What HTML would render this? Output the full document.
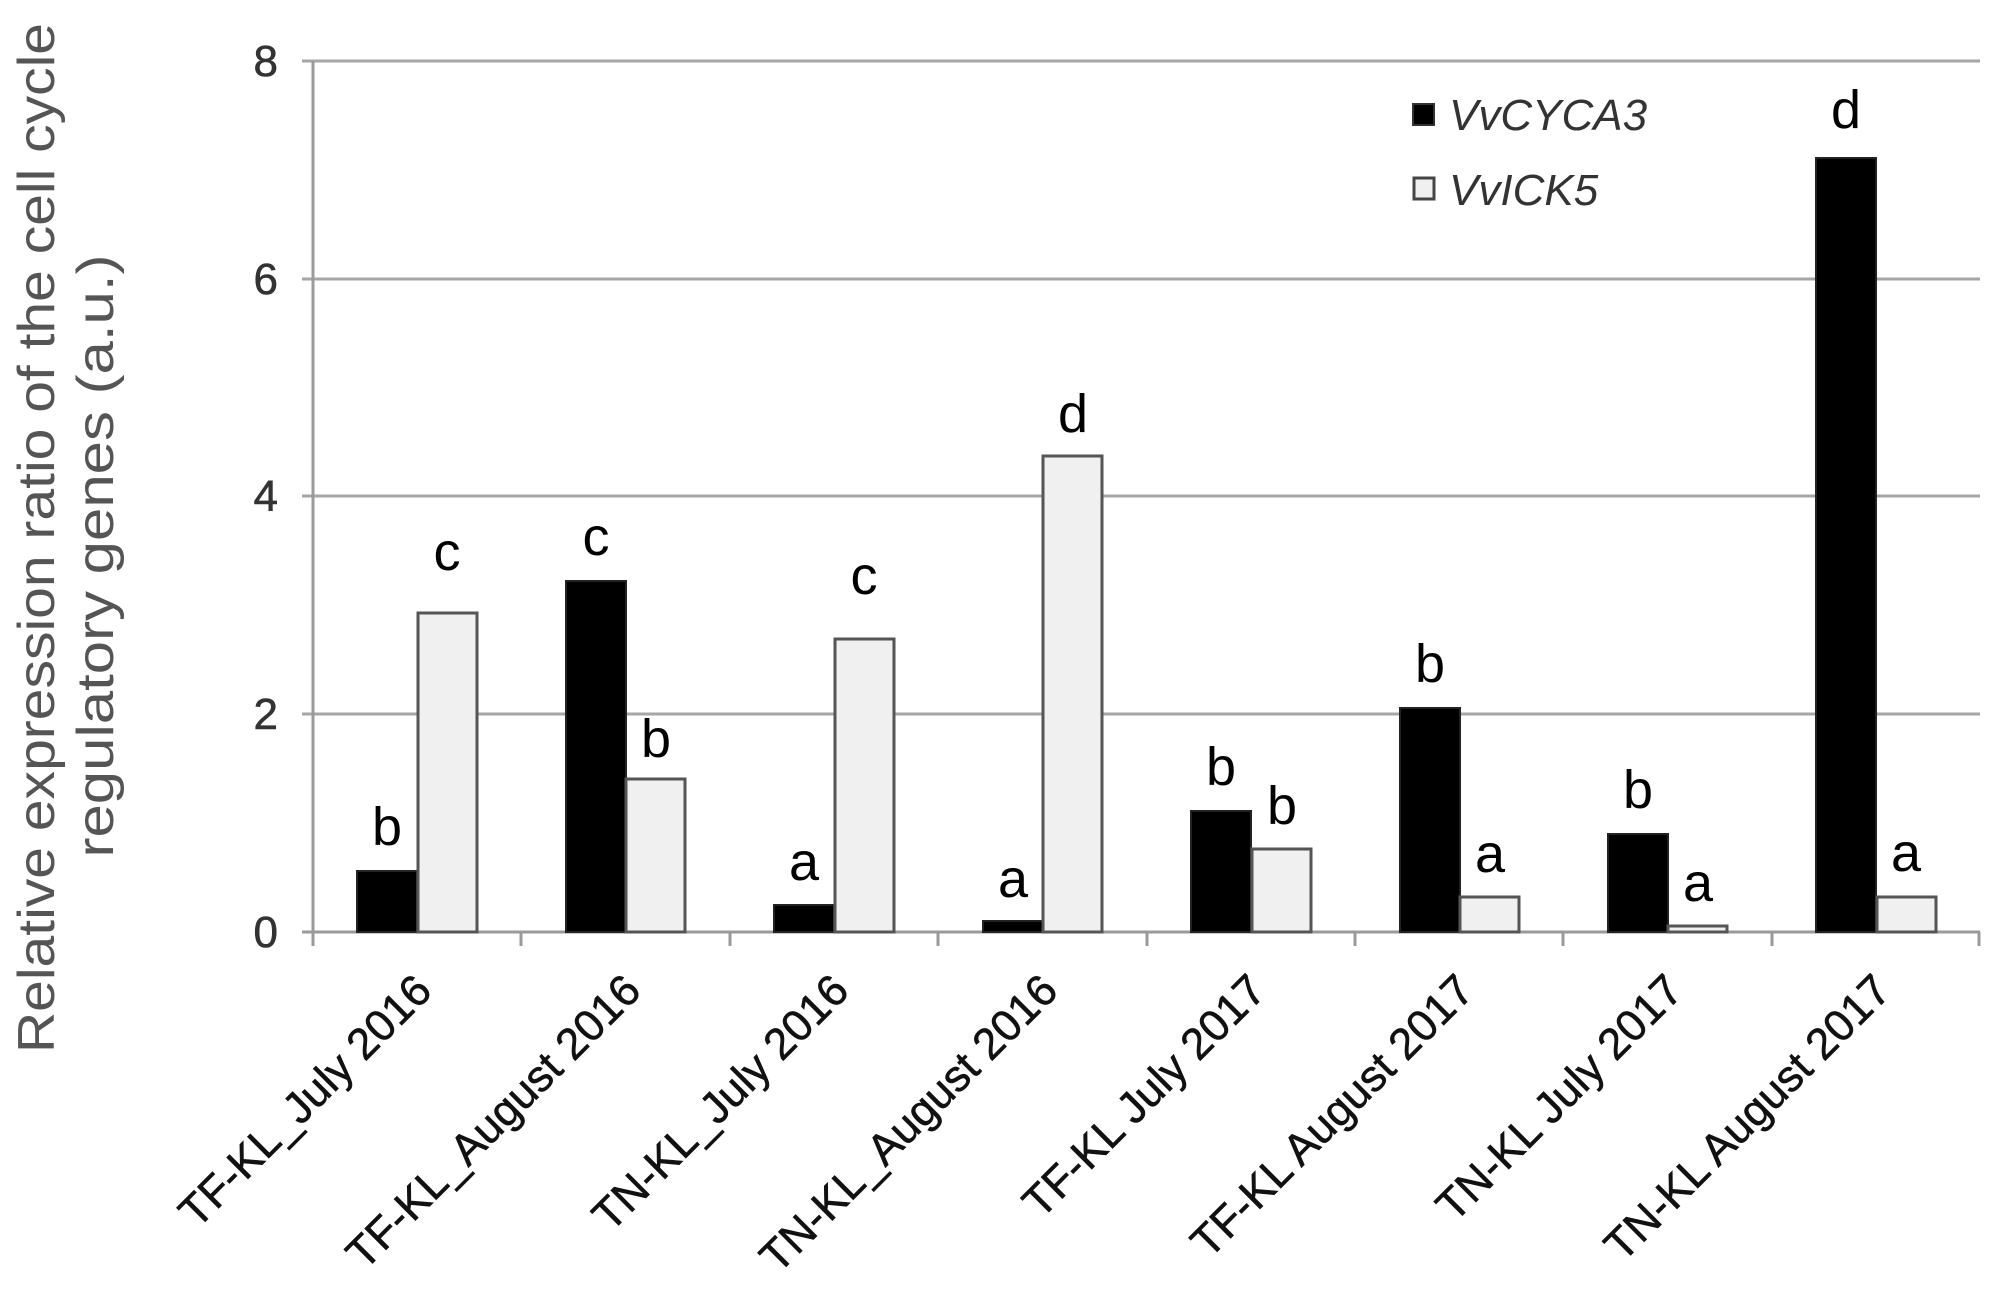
<!DOCTYPE html>
<html><head><meta charset="utf-8"><style>
html,body{margin:0;padding:0;background:#fff;}
svg{display:block;}
text{font-family:"Liberation Sans",Arial,sans-serif;}
</style></head><body>
<svg width="1991" height="1291" viewBox="0 0 1991 1291" xmlns="http://www.w3.org/2000/svg">
<rect width="1991" height="1291" fill="#fff"/>
<g stroke="#a6a6a6" stroke-width="3">
<line x1="302" y1="61" x2="1980" y2="61"/>
<line x1="302" y1="279" x2="1980" y2="279"/>
<line x1="302" y1="496" x2="1980" y2="496"/>
<line x1="302" y1="714" x2="1980" y2="714"/>
</g>
<g font-size="44" fill="#333" stroke="#333" stroke-width="0.6" text-anchor="end">
<text x="278" y="76">8</text>
<text x="278" y="294">6</text>
<text x="278" y="511">4</text>
<text x="278" y="729">2</text>
<text x="278" y="947">0</text>
</g>
<g stroke="#9a9a9a" stroke-width="3">
<line x1="313" y1="61" x2="313" y2="946"/>
<line x1="302" y1="932" x2="1980" y2="932"/>
<line x1="521" y1="932" x2="521" y2="946"/>
<line x1="730" y1="932" x2="730" y2="946"/>
<line x1="938" y1="932" x2="938" y2="946"/>
<line x1="1147" y1="932" x2="1147" y2="946"/>
<line x1="1355" y1="932" x2="1355" y2="946"/>
<line x1="1563" y1="932" x2="1563" y2="946"/>
<line x1="1772" y1="932" x2="1772" y2="946"/>
<line x1="1979" y1="932" x2="1979" y2="946"/>
</g>
<g fill="#000" stroke="#222" stroke-width="2">
<rect x="357" y="871" width="60" height="61"/>
<rect x="566" y="581" width="60" height="351"/>
<rect x="774" y="905" width="60" height="27"/>
<rect x="983" y="921" width="60" height="11"/>
<rect x="1191" y="811" width="60" height="121"/>
<rect x="1400" y="708" width="60" height="224"/>
<rect x="1608" y="834" width="60" height="98"/>
<rect x="1816" y="158" width="60" height="774"/>
</g>
<g fill="#f0f0f0" stroke="#555" stroke-width="3">
<rect x="418" y="613" width="59" height="319"/>
<rect x="626" y="779" width="59" height="153"/>
<rect x="835" y="639" width="59" height="293"/>
<rect x="1043" y="456" width="59" height="476"/>
<rect x="1252" y="849" width="59" height="83"/>
<rect x="1460" y="897" width="59" height="35"/>
<rect x="1668" y="926" width="59" height="6"/>
<rect x="1877" y="897" width="59" height="35"/>
</g>
<g font-size="54" fill="#000" text-anchor="middle">
<text x="387" y="845">b</text>
<text x="447" y="570">c</text>
<text x="596" y="555">c</text>
<text x="656" y="757">b</text>
<text x="804" y="880">a</text>
<text x="864" y="594">c</text>
<text x="1013" y="897">a</text>
<text x="1073" y="432">d</text>
<text x="1221" y="785">b</text>
<text x="1282" y="824">b</text>
<text x="1430" y="682">b</text>
<text x="1490" y="872">a</text>
<text x="1638" y="808">b</text>
<text x="1698" y="901">a</text>
<text x="1846" y="128">d</text>
<text x="1906" y="871">a</text>
</g>
<g font-size="44" fill="#111" stroke="#111" stroke-width="0.6" text-anchor="end">
<text transform="translate(434,993) rotate(-45)">TF-KL_July 2016</text>
<text transform="translate(643,993) rotate(-45)">TF-KL_August 2016</text>
<text transform="translate(851,993) rotate(-45)">TN-KL_July 2016</text>
<text transform="translate(1060,993) rotate(-45)">TN-KL_August 2016</text>
<text transform="translate(1268,993) rotate(-45)">TF-KL July 2017</text>
<text transform="translate(1476,993) rotate(-45)">TF-KL August 2017</text>
<text transform="translate(1685,993) rotate(-45)">TN-KL July 2017</text>
<text transform="translate(1893,993) rotate(-45)">TN-KL August 2017</text>
</g>
<rect x="1413" y="104" width="21" height="21" fill="#000" stroke="#333" stroke-width="2"/>
<rect x="1414" y="178" width="20" height="21" fill="#f0f0f0" stroke="#444" stroke-width="3"/>
<g font-size="44" font-style="italic" fill="#333">
<text x="1449" y="130">VvCYCA3</text>
<text x="1449" y="205">VvICK5</text>
</g>
<g font-size="52" fill="#555" text-anchor="middle">
<text transform="translate(54,538) rotate(-90)" textLength="1030" lengthAdjust="spacingAndGlyphs">Relative expression ratio of the cell cycle</text>
<text transform="translate(113,556) rotate(-90)" textLength="603" lengthAdjust="spacingAndGlyphs">regulatory genes (a.u.)</text>
</g>
</svg>
</body></html>
